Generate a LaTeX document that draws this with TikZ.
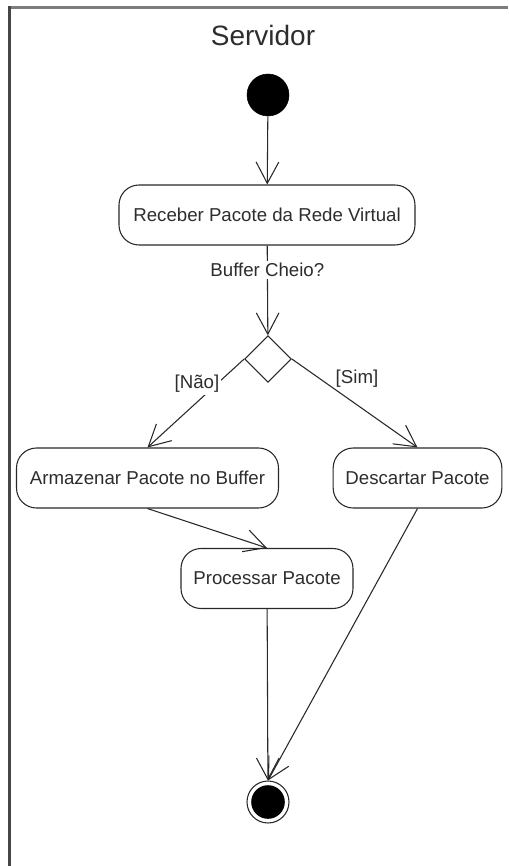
\documentclass[tikz,border=0pt]{standalone}
\usepackage{fontspec}
\setmainfont{Liberation Sans}
\usetikzlibrary{arrows.meta,shapes.geometric}
\definecolor{ink}{RGB}{40,40,40}
\definecolor{txt}{RGB}{45,45,45}
\definecolor{framegray}{RGB}{125,125,125}
\definecolor{frameleft}{RGB}{70,70,70}
\tikzset{
  activity/.style={draw=ink, line width=0.8pt, rounded corners=15pt, fill=white,
    minimum height=45pt, inner sep=0pt, text=txt, font=\fontsize{14}{16}\selectfont},
  startnode/.style={circle, fill=black, draw=black, minimum size=31.5pt, inner sep=0pt},
  endnode/.style={circle, draw=ink, line width=0.8pt, minimum size=31.5pt, inner sep=0pt,
    path picture={\fill[black] (path picture bounding box.center) circle (12.6pt);}},
  decision/.style={diamond, draw=ink, line width=0.8pt, minimum width=35pt,
    minimum height=35pt, inner sep=0pt, fill=white},
  flow/.style={draw=ink, line width=0.8pt, -{Straight Barb[length=16pt,width=17pt,line width=0.8pt]}},
  guard/.style={text=txt, font=\fontsize{14}{16}\selectfont, inner sep=1.5pt},
}
\begin{document}
\begin{tikzpicture}[x=0.75pt, y=-0.75pt]
  \useasboundingbox (0,0) rectangle (508,866);
  % swimlane frame (top and left edges)
  \draw[framegray, line width=2.2pt] (508,7.5) -- (9.5,7.5);
  \draw[frameleft, line width=2pt] (9.5,6.5) -- (9.5,866);
  \node[text=txt, font=\fontsize{21}{24}\selectfont] (title) at (263,35) {Servidor};

  % nodes
  \node[startnode] (start) at (268,95) {};
  \node[activity, minimum width=222pt] (rec) at (267,215) {Receber Pacote da Rede Virtual};
  \node[decision] (dec) at (268,359) {};
  \node[activity, minimum width=196.5pt] (arm) at (147.5,478) {Armazenar Pacote no Buffer};
  \node[activity, minimum width=126.5pt] (desc) at (417.5,478) {Descartar Pacote};
  \node[activity, minimum width=129pt] (proc) at (267,578.5) {Processar Pacote};
  \node[endnode] (stop) at (268,802) {};

  % control flows
  \draw[flow] (start) -- (rec);
  \draw[flow] (rec) -- node[guard, fill=white, pos=0.27] (q) {Buffer Cheio?} (dec);
  \draw[flow] (dec.west) -- (arm.north);
  \node[guard, fill=white] (nao) at (197,384) {[Não]};
  \draw[flow] (dec.east) -- (desc.north);
  \node[guard] (sim) at (357,379) {[Sim]};
  \draw[flow] (arm.south) -- (proc.north);
  \draw[flow] (proc) -- (stop);
  \draw[flow] (desc.south) -- (stop.north);
\end{tikzpicture}
\end{document}
